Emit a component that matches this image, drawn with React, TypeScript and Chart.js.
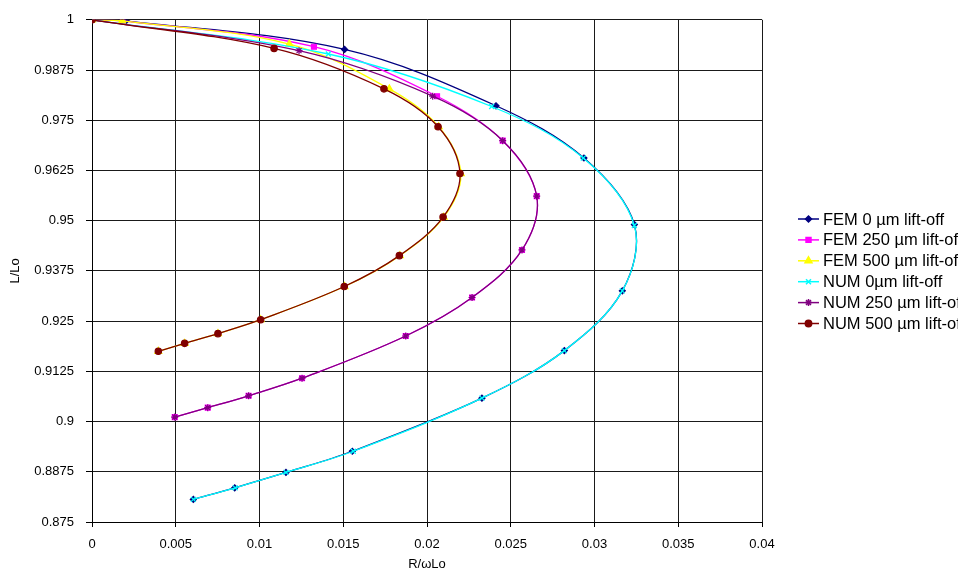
import { useEffect, useRef } from "react";
import { Chart, registerables } from "chart.js";
import { drawPoint } from "chart.js/helpers";
Chart.register(...registerables);

// ---- data ----
const seriesNames = [
  "FEM 0 µm lift-off",
  "FEM 250 µm lift-off",
  "FEM 500 µm lift-off",
  "NUM 0µm lift-off",
  "NUM 250 µm lift-off",
  "NUM 500 µm lift-off",
];

const fem0X = [0, 0.00203, 0.01508, 0.02412, 0.02937, 0.03238, 0.03166, 0.0282, 0.02328, 0.01554, 0.01158, 0.00852, 0.00605];
const fem0Y = [1, 0.99975, 0.99263, 0.9786, 0.9656, 0.94903, 0.93254, 0.91766, 0.90583, 0.89261, 0.88733, 0.88351, 0.88063];

const fem250X = [0, 0.00183, 0.01325, 0.0206, 0.02452, 0.02655, 0.02567, 0.02269, 0.01873, 0.01254, 0.00935, 0.00691, 0.00494];
const fem250Y = [1, 0.99975, 0.9933, 0.98098, 0.96991, 0.9561, 0.94271, 0.93088, 0.9213, 0.91079, 0.90642, 0.90345, 0.90112];

const fem500X = [0, 0.0018, 0.01178, 0.01775, 0.0207, 0.02202, 0.021, 0.01838, 0.01508, 0.01007, 0.00752, 0.00553, 0.00396];
const fem500Y = [1, 0.99975, 0.99397, 0.98281, 0.97339, 0.96173, 0.95089, 0.9413, 0.93361, 0.92535, 0.92188, 0.91947, 0.91749];

const num0X = [0, 0.01411, 0.02386, 0.02933, 0.03238, 0.03166, 0.0282, 0.02328, 0.0156, 0.01158, 0.00855, 0.00605];
const num0Y = [1, 0.99149, 0.97842, 0.9656, 0.9488, 0.93254, 0.91766, 0.90583, 0.89261, 0.88733, 0.88351, 0.88063];

const num250X = [0, 0.01236, 0.02034, 0.02452, 0.02655, 0.02567, 0.02269, 0.01873, 0.01254, 0.00935, 0.00691, 0.00494];
const num250Y = [1, 0.99231, 0.98098, 0.96991, 0.9561, 0.94271, 0.93088, 0.9213, 0.91079, 0.90642, 0.90345, 0.90112];

const num500X = [0, 0.01087, 0.01743, 0.02066, 0.02197, 0.02096, 0.01835, 0.01506, 0.01007, 0.00752, 0.00553, 0.00396];
const num500Y = [1, 0.99288, 0.98281, 0.97339, 0.96173, 0.95089, 0.9413, 0.93361, 0.92535, 0.92188, 0.91947, 0.91749];

const xTicks = [0, 0.005, 0.01, 0.015, 0.02, 0.025, 0.03, 0.035, 0.04];
const yTicks = [0.875, 0.8875, 0.9, 0.9125, 0.925, 0.9375, 0.95, 0.9625, 0.975, 0.9875, 1];

const FONT = "'Liberation Sans', Arial, sans-serif";

const styles = [
  { color: "#000080", style: "rectRot", radius: 3 },
  { color: "#FF00FF", style: "rect", radius: 3.5 },
  { color: "#FFFF00", style: "triangle", radius: 4 },
  { color: "#00FFFF", style: "crossRot", radius: 3.5 },
  { color: "#800080", style: "star", radius: 3.5 },
  { color: "#800000", style: "circle", radius: 3.2 },
];

const zip = (xs: number[], ys: number[]) => xs.map((x, i) => ({ x, y: ys[i] }));

const legendPlugin = {
  id: "customLegend",
  afterDraw(chart: any) {
    const ctx = chart.ctx;
    ctx.save();
    ctx.font = `16.5px ${FONT}`;
    ctx.textBaseline = "middle";
    ctx.fillStyle = "#000";
    seriesNames.forEach((name, i) => {
      const y = 219 + i * 20.9;
      const s = styles[i];
      ctx.strokeStyle = s.color;
      ctx.lineWidth = 1.5;
      ctx.beginPath();
      ctx.moveTo(798, y);
      ctx.lineTo(819, y);
      ctx.stroke();
      ctx.fillStyle = s.color;
      ctx.strokeStyle = s.color;
      ctx.lineWidth = 1.5;
      drawPoint(ctx, { pointStyle: s.style, radius: s.radius, rotation: 0, borderWidth: 1.5 } as any, 808.5, y);
      ctx.fillStyle = "#000";
      ctx.fillText(name, 823, y + 1);
    });
    ctx.restore();
  },
};

export default function App() {
  const ref = useRef<HTMLCanvasElement>(null);
  useEffect(() => {
    if (!ref.current) return;
    const all = [
      zip(fem0X, fem0Y),
      zip(fem250X, fem250Y),
      zip(fem500X, fem500Y),
      zip(num0X, num0Y),
      zip(num250X, num250Y),
      zip(num500X, num500Y),
    ];
    const chart = new Chart(ref.current, {
      type: "scatter",
      data: {
        datasets: all.map((d, i) => ({
          label: seriesNames[i],
          data: d,
          showLine: true,
          tension: 0.35,
          borderColor: styles[i].color,
          backgroundColor: styles[i].color,
          borderWidth: 1.3,
          pointStyle: styles[i].style as any,
          pointRadius: styles[i].radius,
          pointBorderWidth: 1.2,
          pointBorderColor: styles[i].color,
          pointBackgroundColor: styles[i].color,
          order: 6 - i,
        })),
      },
      options: {
        responsive: false,
        animation: false,
        devicePixelRatio: 1,
        layout: { padding: { top: 18, right: 196, left: 0, bottom: 0 } },
        plugins: { legend: { display: false }, tooltip: { enabled: false } },
        scales: {
          x: {
            type: "linear",
            min: 0,
            max: 0.04,
            afterFit: (s: any) => { s.height = 52; },
            afterBuildTicks: (s: any) => { s.ticks = xTicks.map((v) => ({ value: v })); },
            ticks: {
              color: "#000",
              font: { family: FONT, size: 13 },
              padding: 10,
              callback: (v: any) => String(+Number(v).toFixed(4)),
            },
            grid: { color: "#1a1a1a", lineWidth: 1, tickLength: 5, tickColor: "#000" },
            border: { color: "#000", width: 1 },
            title: { display: true, text: "R/ωLo", color: "#000", font: { family: FONT, size: 13 }, padding: { top: 0, bottom: 2 } },
          },
          y: {
            type: "linear",
            min: 0.875,
            max: 1,
            afterFit: (s: any) => { s.width = 92; },
            afterBuildTicks: (s: any) => { s.ticks = yTicks.map((v) => ({ value: v })); },
            ticks: {
              color: "#000",
              font: { family: FONT, size: 13 },
              padding: 12,
              callback: (v: any) => String(+Number(v).toFixed(4)),
            },
            grid: { color: "#1a1a1a", lineWidth: 1, tickLength: 6, tickColor: "#000" },
            border: { color: "#000", width: 1 },
            title: { display: true, text: "L/Lo", color: "#000", font: { family: FONT, size: 13 }, padding: { top: 8, bottom: 0 } },
          },
        },
      },
      plugins: [legendPlugin],
    } as any);
    return () => chart.destroy();
  }, []);
  return (
    <div style={{ position: "fixed", left: 0, top: 0, width: 958, height: 574, background: "#fff" }}>
      <canvas ref={ref} width={958} height={574} style={{ display: "block" }} />
    </div>
  );
}
